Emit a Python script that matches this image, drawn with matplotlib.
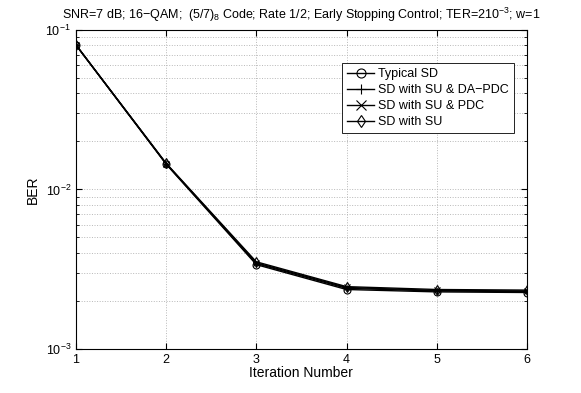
import matplotlib
matplotlib.use("Agg")
import matplotlib.pyplot as plt
from matplotlib.ticker import LogLocator, NullFormatter

plt.rcParams['font.family'] = ['Liberation Sans', 'DejaVu Sans']
plt.rcParams['mathtext.fontset'] = 'custom'
plt.rcParams['mathtext.rm'] = 'Liberation Sans'
plt.rcParams['mathtext.it'] = 'Liberation Sans:italic'
plt.rcParams['font.size'] = 9

iterations = [1, 2, 3, 4, 5, 6]
typical_sd = [0.0804, 0.0144, 0.00338, 0.00236, 0.00228, 0.00226]
sd_su_dapdc = [0.0805, 0.0145, 0.00343, 0.00240, 0.00231, 0.00229]
sd_su_pdc = [0.0805, 0.0145, 0.00347, 0.00243, 0.00233, 0.00231]
sd_su = [0.0806, 0.0146, 0.00352, 0.00246, 0.00236, 0.00234]

labels = ['Typical SD', 'SD with SU & DA\u2212PDC', 'SD with SU & PDC', 'SD with SU']
markers = ['o', '+', 'x', 'd']
series = [typical_sd, sd_su_dapdc, sd_su_pdc, sd_su]

fig = plt.figure(figsize=(5.81, 3.93), dpi=100)
ax = fig.add_axes([0.1308, 0.112, 0.776, 0.8117])

for vals, m, lab in zip(series, markers, labels):
    ax.semilogy(iterations, vals, color='black', linewidth=1.0, marker=m,
                markersize=5, markerfacecolor='none', markeredgecolor='black',
                markeredgewidth=0.8, label=lab)

ax.set_xlim(1, 6)
ax.set_ylim(1e-3, 1e-1)
ax.set_xticks(iterations)
ax.yaxis.set_minor_locator(LogLocator(base=10, subs=range(2, 10)))
ax.yaxis.set_minor_formatter(NullFormatter())
ax.tick_params(which='both', direction='in', top=True, right=True)
ax.tick_params(which='major', length=4)
ax.tick_params(which='minor', length=2)
ax.grid(True, which='major', linestyle=':', color='#b8b8b8', linewidth=0.7)
ax.grid(True, which='minor', axis='y', linestyle=':', color='#b8b8b8', linewidth=0.7)

ax.set_xlabel('Iteration Number', fontsize=10, labelpad=0)
ax.set_ylabel('BER', fontsize=10)
ax.set_title('SNR=7 dB; 16\u2212QAM;  (5/7)$_8$ Code; Rate 1/2; Early Stopping Control; TER=210$^{-3}$; w=1',
             fontsize=9, pad=8)

leg = ax.legend(loc='upper right', bbox_to_anchor=(0.985, 0.915), fontsize=9,
                fancybox=False, edgecolor='black', framealpha=1, markerscale=1.3,
                handlelength=2.2, handletextpad=0.3, borderpad=0.4, labelspacing=0.32)
leg.get_frame().set_linewidth(0.6)

fig.savefig('out.png', dpi=100)
